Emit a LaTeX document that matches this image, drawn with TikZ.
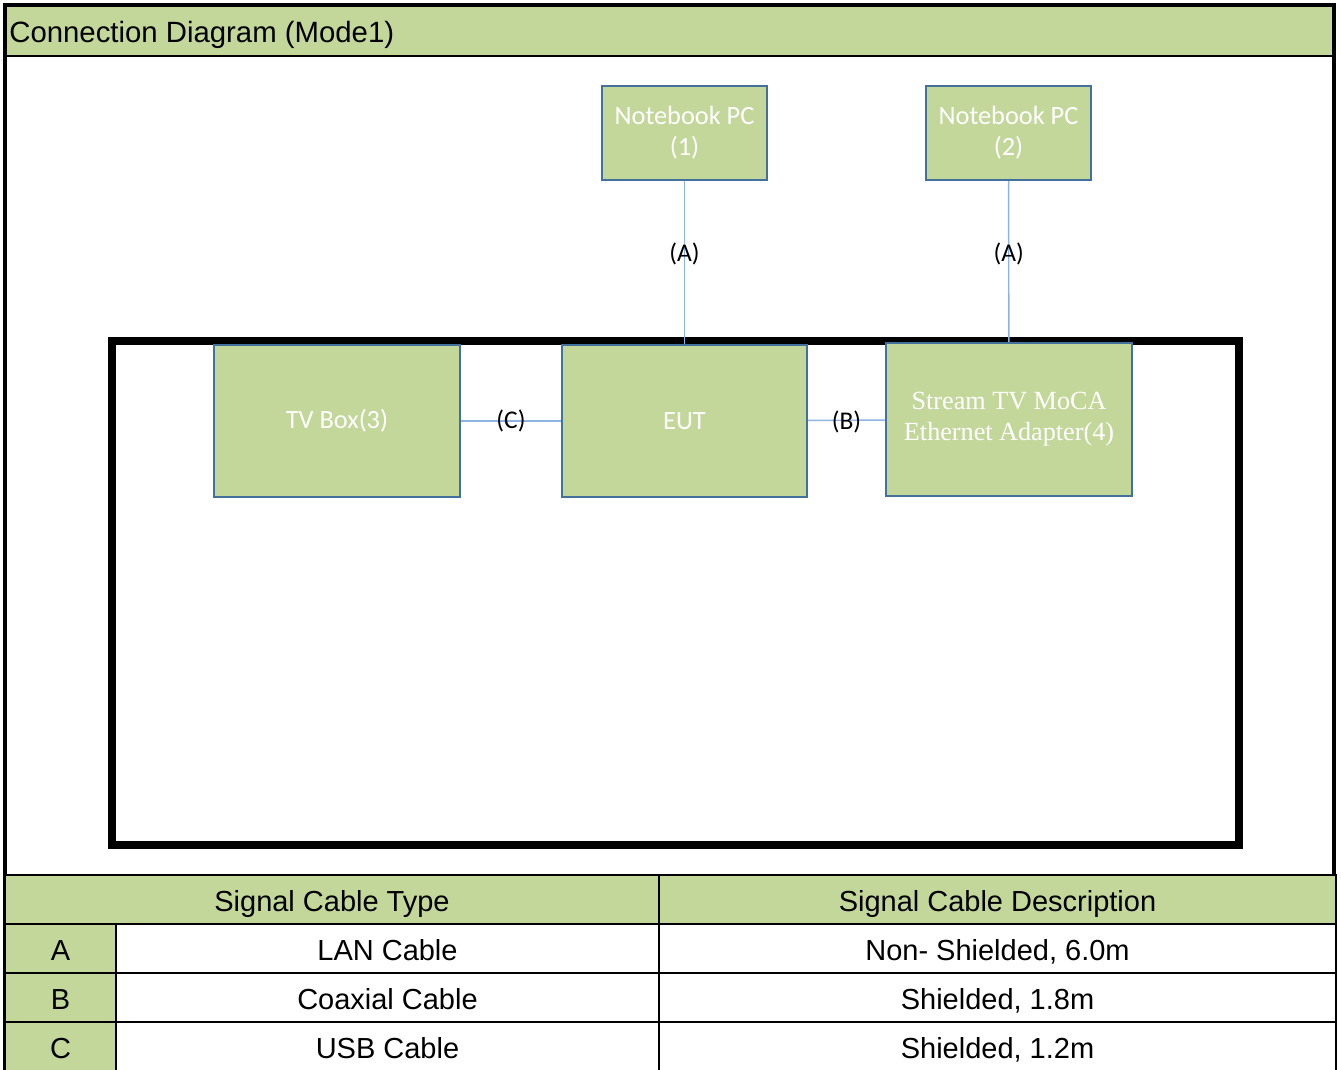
\documentclass[tikz,border=0pt]{standalone}
\usepackage{fontspec}
\setmainfont{Liberation Sans}
\newfontfamily\calibri{Carlito}
\newfontfamily\timesfont{Liberation Serif}
\definecolor{boxgreen}{RGB}{196,215,155}
\definecolor{boxedge}{RGB}{65,113,156}
\definecolor{cablecol}{RGB}{141,180,226}

\begin{document}
\begin{tikzpicture}[x=0.02cm,y=-0.02cm,
	unit/.style={draw=boxedge,line width=1.2pt,fill=boxgreen,text=white,align=center,inner sep=0pt,font=\calibri\fontsize{15}{17.6}\selectfont},
	cable/.style={draw=cablecol,line width=0.8pt},
	tag/.style={inner sep=0pt,text=black,font=\calibri\fontsize{14.5}{17}\selectfont},
	cell/.style={draw=black,line width=1.6pt,inner sep=0pt,minimum height=0.98cm,text height=15pt,text depth=1.5pt,font=\fontsize{16.5}{19}\selectfont}]
	\useasboundingbox (0,0) rectangle (1341,1070);
	% title band and outer frame
	\fill[boxgreen] (5,5) rectangle (1334,56);
	\draw[line width=1.5pt] (5,56) -- (1334,56);
	\draw[line width=2.2pt] (3,5) -- (1336,5);
	\draw[line width=2.2pt] (5,3) -- (5,1070);
	\draw[line width=2.2pt] (1334,3) -- (1334,875);
	\node[anchor=west,inner sep=0pt,font=\fontsize{16.7}{19}\selectfont] (title) at (9,34.5) {Connection Diagram (Mode1)};
	\draw[line width=4.5pt] (112,341) rectangle (1239,845);
	% units
	\node[unit,minimum width=3.3cm,minimum height=1.88cm] (nbone) at (684.5,133) {Notebook PC\\(1)};
	\node[unit,minimum width=3.3cm,minimum height=1.88cm] (nbtwo) at (1008.5,133) {Notebook PC\\(2)};
	\node[unit,minimum width=4.92cm,minimum height=3.04cm] (tvbox) at (337,421) {TV Box(3)};
	\node[unit,minimum width=4.9cm,minimum height=3.04cm] (eut) at (684.5,421) {EUT};
	\node[unit,minimum width=4.92cm,minimum height=3.06cm,font=\timesfont\fontsize{14.9}{17.6}\selectfont] (moca) at (1009,419.5) {Stream TV MoCA\\Ethernet Adapter(4)};
	% cables
	\draw[cable] (nbone) -- node[tag,pos=0.45] (taga) {(A)} (eut);
	\draw[cable] (nbtwo) -- node[tag,pos=0.45] (tagaa) {(A)} (moca);
	\draw[cable] (tvbox) -- node[tag] (tagc) {(C)} (eut);
	\draw[cable] (eut) -- node[tag,yshift=-0.04cm] (tagb) {(B)} (moca);
	% cable table
	\node[cell,fill=boxgreen,minimum width=13.08cm] (headtype) at (332,899.5) {Signal Cable Type};
	\node[cell,fill=boxgreen,minimum width=13.54cm] (headdesc) at (997.5,899.5) {Signal Cable Description};
	\foreach \y/\k/\t/\d in {948.5/A/LAN Cable/{Non- Shielded, 6.0m},997.5/B/Coaxial Cable/{Shielded, 1.8m},1046.5/C/USB Cable/{Shielded, 1.2m}}{
		\node[cell,fill=boxgreen,minimum width=2.22cm] (key\k) at (60.5,\y) {\k};
		\node[cell,minimum width=10.86cm] (type\k) at (387.5,\y) {\t};
		\node[cell,minimum width=13.54cm] (desc\k) at (997.5,\y) {\d};
	}
\end{tikzpicture}
\end{document}
